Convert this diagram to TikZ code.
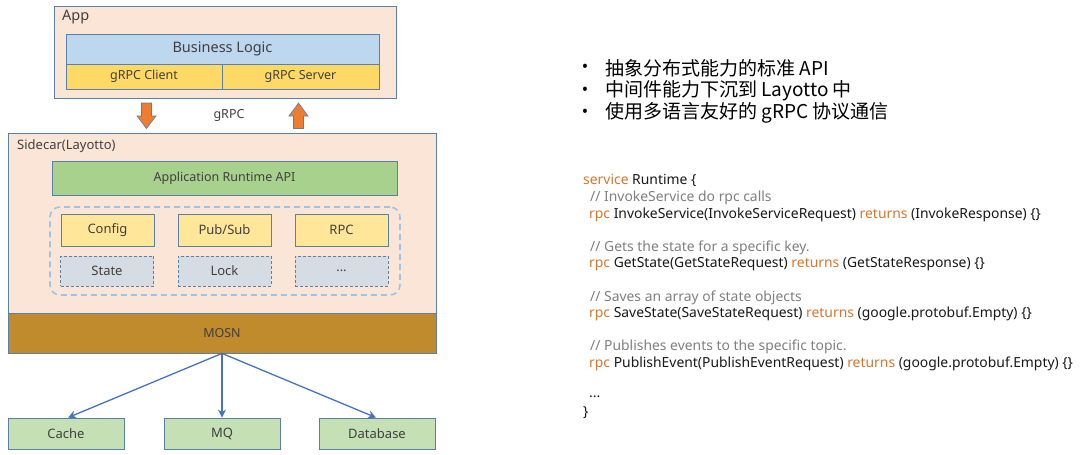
\documentclass[tikz,border=0pt]{standalone}
\usepackage{fontspec}
\setmainfont{Noto Sans}
\newfontfamily\cjk{Noto Sans CJK SC}
\usetikzlibrary{positioning,arrows.meta}
\definecolor{peach}{HTML}{FBE5D6}
\definecolor{bord}{HTML}{5B80A5}
\definecolor{blueL}{HTML}{BDD7EE}
\definecolor{yel}{HTML}{FFD966}
\definecolor{yelL}{HTML}{FFE699}
\definecolor{greenA}{HTML}{A9D18E}
\definecolor{greenL}{HTML}{C5E0B4}
\definecolor{grayB}{HTML}{D6DCE4}
\definecolor{mosn}{HTML}{BF8B2C}
\definecolor{orangeA}{HTML}{ED7D31}
\definecolor{dashB}{HTML}{9DC3E6}
\definecolor{arrB}{HTML}{4472C4}
\definecolor{txt}{HTML}{404040}
\definecolor{kw}{HTML}{D4782F}
\definecolor{cmt}{HTML}{808080}
\tikzset{
  box/.style={draw=bord, line width=0.8pt, inner sep=0pt, text=txt, font=\fontsize{12.5}{14}\selectfont},
  dbox/.style={box, dashed, dash pattern=on 3pt off 2pt},
  code/.style={anchor=west, inner sep=0pt, font=\fontsize{13.9}{15}\selectfont, text=black!90},
  bul/.style={anchor=west, inner sep=0pt, font=\cjk\fontsize{19}{20}\selectfont, text=black},
  dotn/.style={anchor=center, inner sep=0pt, font=\fontsize{17}{20}\selectfont, text=black},
  conn/.style={draw=arrB, line width=1.3pt, -{Stealth[length=8pt,width=8pt]}},
}
\begin{document}
\begin{tikzpicture}[x=1pt,y=-1pt]
\useasboundingbox[fill=white] (0,0) rectangle (1080,455);
% App
\node[box, fill=peach, minimum width=342, minimum height=92] (app) at (225,52) {};
\node[anchor=west, inner sep=0pt, text=txt, font=\fontsize{14.5}{16}\selectfont] (applbl) at (62,17) {App};
\node[box, fill=blueL, minimum width=313, minimum height=30, font=\fontsize{14.5}{15}\selectfont] (biz) at (222.5,49) {Business Logic};
\node[box, fill=yel, minimum width=156, minimum height=25] (cli) at (144,76.5) {gRPC Client};
\node[box, fill=yel, minimum width=157, minimum height=25] (srv) at (300.5,76.5) {gRPC Server};
% block arrows
\draw[fill=orangeA, draw=bord, line width=0.6pt] (141.5,103) -- (151.5,103) -- (151.5,116) -- (156,116) -- (146.5,128.5) -- (137,116) -- (141.5,116) -- cycle;
\draw[fill=orangeA, draw=bord, line width=0.6pt] (293.5,128.5) -- (303.5,128.5) -- (303.5,116) -- (308,116) -- (298.5,103) -- (289,116) -- (293.5,116) -- cycle;
\node[text=txt, inner sep=0pt, font=\fontsize{12.5}{14}\selectfont] (grpc) at (229,115) {gRPC};
% Sidecar
\node[box, fill=peach, minimum width=428, minimum height=180] (side) at (222,223) {};
\node[anchor=west, inner sep=0pt, text=txt, font=\fontsize{13}{14}\selectfont] (sidelbl) at (17,146) {Sidecar(Layotto)};
\node[box, fill=greenA, minimum width=345, minimum height=34] (api) at (224.5,178) {Application Runtime API};
\node[draw=dashB, line width=1.6pt, dash pattern=on 6pt off 4pt, rounded corners=10pt, minimum width=350, minimum height=88, inner sep=0pt] (grp) at (225,251) {};
\node[box, fill=yelL, minimum width=93, minimum height=32, font=\fontsize{13}{14}\selectfont] (cfg) at (107.5,230) {Config};
\node[box, fill=yelL, minimum width=93, minimum height=32, font=\fontsize{13}{14}\selectfont] (pub) at (224.5,230) {Pub/Sub};
\node[box, fill=yelL, minimum width=93, minimum height=32, font=\fontsize{13}{14}\selectfont] (rpc) at (341.5,230) {RPC};
\node[dbox, fill=grayB, minimum width=93, minimum height=30, font=\fontsize{13}{14}\selectfont] (st) at (107,271) {State};
\node[dbox, fill=grayB, minimum width=93, minimum height=30, font=\fontsize{13}{14}\selectfont] (lk) at (224.5,271) {Lock};
\node[dbox, fill=grayB, minimum width=93, minimum height=30, font=\fontsize{13}{14}\selectfont] (dots) at (341.5,271) {...};
% MOSN
\node[box, fill=mosn, minimum width=428, minimum height=40] (mosn) at (222,333) {MOSN};
% backends
\node[box, fill=greenL, minimum width=116, minimum height=31, font=\fontsize{13}{14}\selectfont] (cache) at (66,433.5) {Cache};
\node[box, fill=greenL, minimum width=116, minimum height=31, font=\fontsize{13}{14}\selectfont] (mq) at (222,433.5) {MQ};
\node[box, fill=greenL, minimum width=116, minimum height=31, font=\fontsize{13}{14}\selectfont] (db) at (377,433.5) {Database};
\draw[conn] (mosn.south) -- ([xshift=2pt]cache.north);
\draw[conn] (mosn.south) -- (mq.north);
\draw[conn] (mosn.south) -- ([xshift=-1pt]db.north);
% bullets
\node[dotn] (b1d) at (585,68) {•};
\node[bul] (b1) at (605,68) {抽象分布式能力的标准 API};
\node[dotn] (b2d) at (585,91) {•};
\node[bul] (b2) at (605,91) {中间件能力下沉到 Layotto 中};
\node[dotn] (b3d) at (585,113) {•};
\node[bul] (b3) at (605,113) {使用多语言友好的 gRPC 协议通信};
% code
\node[code] (c1) at (583,180) {\textcolor{kw}{service} Runtime \{};
\node[code] (c2) at (590,197.5) {\textcolor{cmt}{// InvokeService do rpc calls}};
\node[code] (c3) at (589,214.5) {\textcolor{kw}{rpc} InvokeService(InvokeServiceRequest) \textcolor{kw}{returns} (InvokeResponse) \{\}};
\node[code] (c4) at (590,247.5) {\textcolor{cmt}{// Gets the state for a specific key.}};
\node[code] (c5) at (589,264.5) {\textcolor{kw}{rpc} GetState(GetStateRequest) \textcolor{kw}{returns} (GetStateResponse) \{\}};
\node[code] (c6) at (590,297.5) {\textcolor{cmt}{// Saves an array of state objects}};
\node[code] (c7) at (589,314) {\textcolor{kw}{rpc} SaveState(SaveStateRequest) \textcolor{kw}{returns} (google.protobuf.Empty) \{\}};
\node[code] (c8) at (590,347) {\textcolor{cmt}{// Publishes events to the specific topic.}};
\node[code] (c9) at (589,364) {\textcolor{kw}{rpc} PublishEvent(PublishEventRequest) \textcolor{kw}{returns} (google.protobuf.Empty) \{\}};
\node[code] (c10) at (589,397) {...};
\node[code] (c11) at (583,413) {\}};
\end{tikzpicture}
\end{document}
